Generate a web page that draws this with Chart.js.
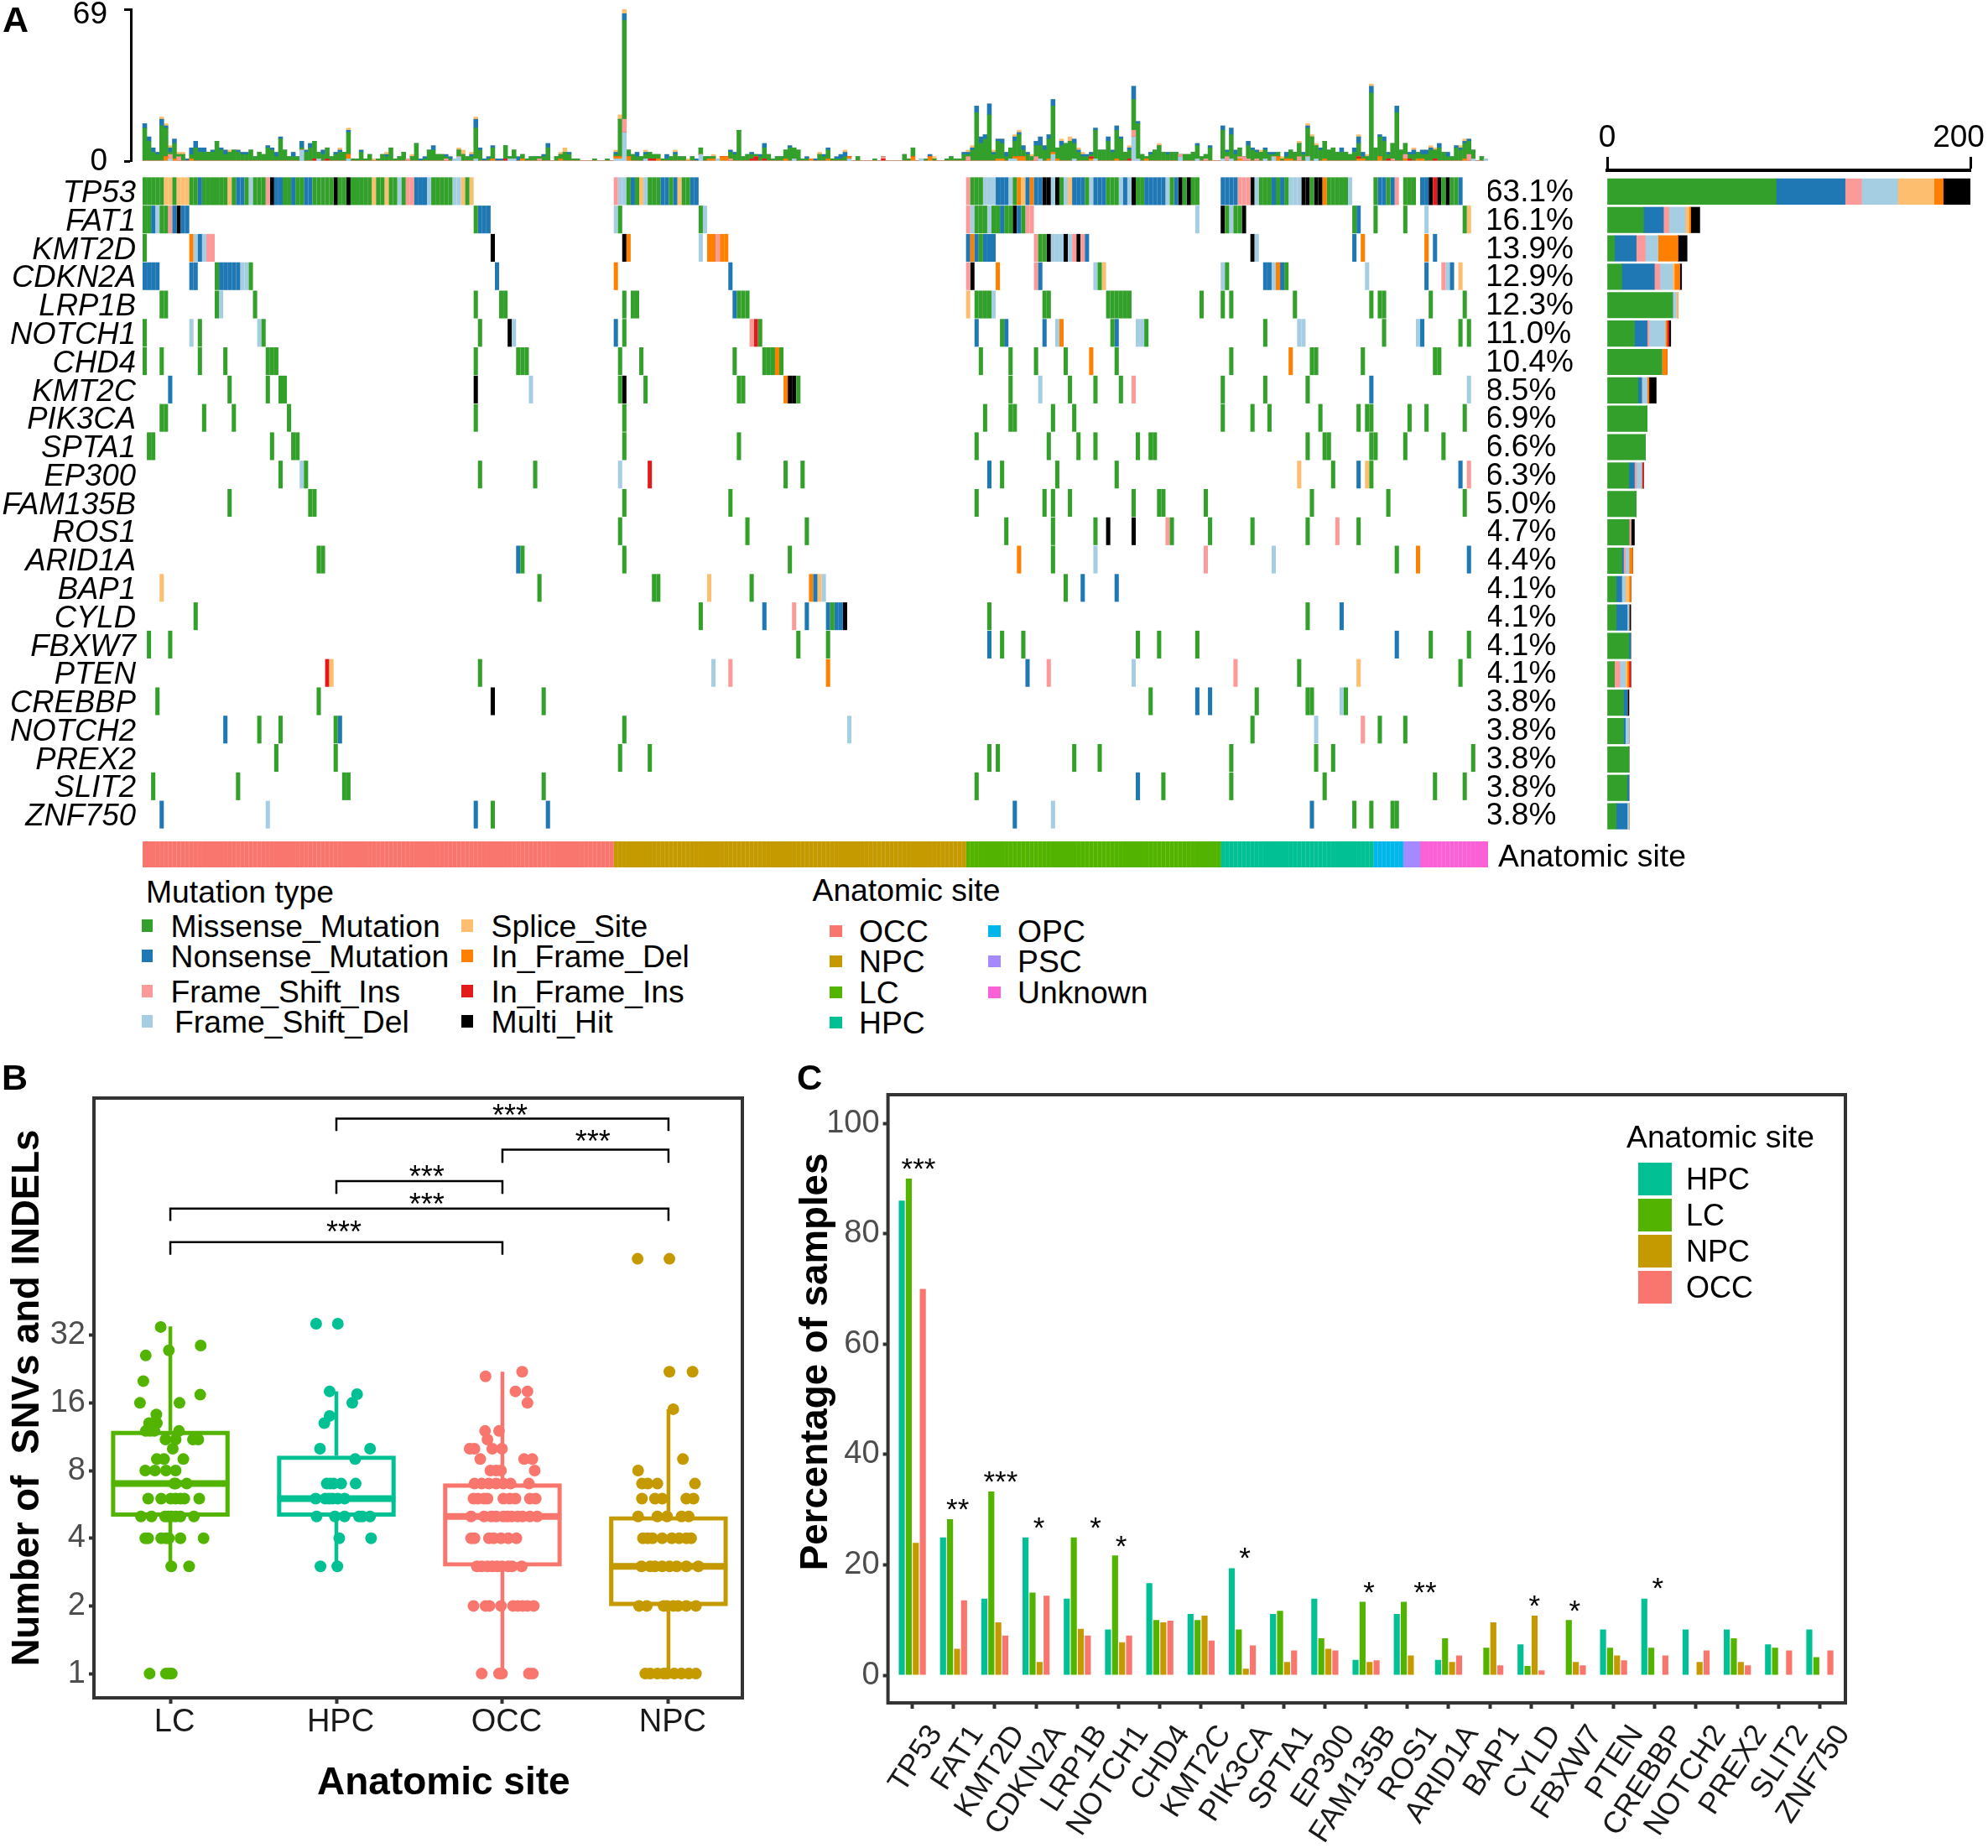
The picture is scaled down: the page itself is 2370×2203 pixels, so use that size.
<!DOCTYPE html>
<html>
<head>
<meta charset="utf-8">
<title>Mutation landscape</title>
<script src="https://cdn.jsdelivr.net/npm/chart.js@4"></script>
<style>
  html, body { margin: 0; background: #fff; }
  #page { position: relative; width: 2370px; height: 2203px; overflow: hidden; background: #fff;
          font-family: "Liberation Sans", Arial, sans-serif; color: #000; }
  #page canvas { position: absolute; }
  .txt { position: absolute; white-space: pre; line-height: 1.2; }
  .swatch { position: absolute; }
</style>
</head>
<body>
<div id="page"></div>
<script>
// ── DATA: genes and labels ────────────────────────────────────
const genes = ["TP53","FAT1","KMT2D","CDKN2A","LRP1B","NOTCH1","CHD4","KMT2C","PIK3CA","SPTA1","EP300","FAM135B","ROS1","ARID1A","BAP1","CYLD","FBXW7","PTEN","CREBBP","NOTCH2","PREX2","SLIT2","ZNF750"];
const genePct = ["63.1%","16.1%","13.9%","12.9%","12.3%","11.0%","10.4%","8.5%","6.9%","6.6%","6.3%","5.0%","4.7%","4.4%","4.1%","4.1%","4.1%","4.1%","3.8%","3.8%","3.8%","3.8%","3.8%"];

const mutCodes  = ["G","B","P","L","S","O","R","K"];
const mutNames  = ["Missense_Mutation","Nonsense_Mutation","Frame_Shift_Ins","Frame_Shift_Del","Splice_Site","In_Frame_Del","In_Frame_Ins","Multi_Hit"];
const mutColors = ["#33a02c","#1f78b4","#fb9a99","#a6cee3","#fdbf6f","#ff7f00","#e31a1c","#000000"];

const siteNames  = ["OCC","NPC","LC","HPC","OPC","PSC","Unknown"];
const siteColors = ["#F8766D","#C49A00","#53B400","#00C094","#00B6EB","#A58AFF","#FB61D7"];
const siteCounts = [111,83,60,36,7,4,16];

// ── DATA: mutations per sample (total on top barplot) ─────────
const topTotal = [
 17,11,6,4,20,17,7,10,4,4, 1,6,9,6,6,4,5,9,6,5, 5,5,5,4,4,5,2,4,3,7, 6,4,11,5,2,4,2,9,5,8,
 9,4,5,6,2,4,6,4,15,1, 1,5,1,3,1,1,3,4,6,1, 2,4,1,3,8,1,2,5,7,3, 3,3,2,1,6,5,2,4,20,6,
 1,2,7,1,1,7,2,5,2,3, 1,2,2,2,3,8,0,2,4,6, 4,1,1,0,0,0,1,0,0,1, 0,5,21,69,5,3,4,2,5,4,
 3,3,1,3,2,5,2,2,1,2, 1,6,2,2,3,1,2,2,5,4, 14,2,3,4,3,3,8,3,1,2, 2,5,7,6,5,1,2,1,1,4,
 3,6,1,2,3,5,2,0,2,0, 0,0,1,0,2,0,0,0,0,3, 1,6,0,1,1,3,2,0,0,1, 2,1,1,4,5,7,25,11,12,26,
 5,10,10,4,6,12,14,7,4,3, 9,11,7,12,28,6,10,8,11,10, 6,4,3,4,15,5,5,11,5,16, 11,4,7,34,18,3,2,4,5,8,
 4,4,4,4,3,3,3,4,8,2, 3,7,0,0,16,5,15,5,6,2, 9,6,5,5,6,4,4,4,2,4, 5,4,9,4,17,12,8,6,9,5,
 6,4,6,4,3,6,12,4,3,35, 6,12,11,4,8,25,5,8,4,6, 4,5,5,7,6,8,4,4,2,7, 7,10,10,5,0,2,1];
// [sample, count] for everything that is not missense
const topNonsense = [[0,2],[1,2],[2,2],[3,1],[4,3],[5,1],[6,2],[7,2],[10,1],[11,3],[12,3],[13,2],[14,2],[16,1],[18,1],[19,2],[22,1],[23,1],[24,1],[29,1],[30,1],[31,2],[32,1],[35,2],[37,3],[38,1],[39,2],[42,2],[45,1],[46,1],[48,1],[51,1],[57,1],[65,1],[66,1],[68,2],[71,1],[72,1],[77,1],[78,4],[79,1],[80,1],[81,1],[82,1],[83,1],[84,1],[88,2],[94,1],[95,2],[100,1],[111,1],[113,3],[116,2],[118,1],[123,2],[125,1],[130,1],[138,1],[139,1],[143,1],[145,1],[146,2],[152,1],[156,1],[158,1],[160,1],[161,1],[163,1],[164,2],[165,2],[185,1],[193,1],[194,1],[195,1],[196,3],[197,3],[198,2],[199,5],[200,1],[201,1],[202,2],[203,2],[205,2],[206,1],[207,2],[208,1],[210,2],[211,4],[212,2],[213,2],[214,3],[216,2],[219,2],[220,1],[221,1],[222,1],[223,1],[224,1],[227,2],[228,1],[229,2],[230,1],[232,1],[233,6],[234,1],[237,1],[241,1],[248,1],[251,1],[254,2],[255,1],[256,3],[257,2],[260,2],[261,1],[262,1],[264,1],[265,1],[266,1],[269,2],[273,1],[274,1],[277,1],[282,2],[285,2],[286,3],[287,2],[289,3],[291,1],[292,2],[293,1],[295,3],[298,1],[299,2],[301,2],[302,2],[303,1],[305,2],[307,2],[309,1],[310,1],[311,1],[312,1]];
const topSplice = [[4,1],[5,1],[6,1],[8,1],[9,1],[20,1],[46,1],[48,1],[54,1],[57,1],[63,1],[74,1],[75,2],[77,1],[78,1],[98,1],[99,2],[111,1],[112,2],[113,2],[118,1],[125,1],[128,1],[134,1],[159,1],[165,1],[186,1],[194,1],[195,1],[200,1],[205,1],[206,1],[209,1],[216,1],[218,2],[220,1],[221,1],[232,1],[239,1],[263,1],[268,1],[272,1],[274,1],[275,1],[276,1],[286,1],[288,1],[289,1],[299,1],[303,1],[304,1],[310,1],[311,1]];
const topFsDel = [[6,1],[37,5],[41,1],[48,1],[73,1],[74,2],[78,1],[86,1],[87,1],[111,1],[112,1],[113,13],[118,1],[131,3],[135,1],[153,1],[166,1],[183,1],[204,1],[205,1],[211,1],[214,3],[219,1],[224,1],[233,11],[234,1],[244,2],[248,1],[254,1],[256,1],[264,1],[266,2],[274,2],[276,1],[313,1],[316,1]];
const topFsIns = [[6,2],[8,2],[62,1],[71,1],[93,1],[113,6],[138,1],[174,1],[194,2],[210,2],[233,3],[244,1],[250,1],[255,2],[258,1],[259,2],[260,1],[262,1],[272,2],[294,1],[297,2],[312,3]];
const topIfDel = [[5,2],[7,1],[11,1],[48,2],[82,1],[89,1],[98,1],[111,1],[112,1],[114,2],[121,1],[133,1],[134,1],[136,2],[137,2],[151,1],[157,1],[161,1],[166,1],[181,2],[185,2],[201,1],[202,1],[205,1],[206,2],[207,2],[213,1],[214,1],[215,1],[223,1],[229,1],[236,1],[258,1],[267,2],[269,1],[270,1],[278,1],[286,1],[287,1],[291,2],[297,1],[300,1],[301,1],[311,1]];
const topIfIns = [[40,1],[43,1],[85,1],[119,1],[120,1],[143,1],[144,2],[146,1],[174,1],[223,1],[232,1],[286,1],[293,1],[298,1],[304,1]];

// ── DATA: oncoplot, [first sample, mutation codes] per gene ───
const mutTP53 = [[0,"GGGGGSSGSSSGGBGGGGGGSGBBGLGGGPKBBGGBGGBBGGGGGKGGKGGGGGSGGSGGLGPPBBBLGGGGGLLSGS"],[111,"PLLGBGSLGGGBBGBSGGBB"],[194,"PGGGLLLBBBLGOSBOBBKKLKGLSBBBGLBBBGGGLBLKGGBBBBBLGBKGKGG"],[254,"BBBBPPPKLGGGBGBGLLLKKGKKOGGGGGL"],[290,"GBBGBP"],[297,"GGG"],[301,"BBKRKGKGGB"]];
const mutFAT1 = [[0,"GGBLGGPBKBB"],[78,"GBBB"],[111,"LG"],[131,"GL"],[194,"PLGGGLGGBGGKBGPP"],[248,"L"],[254,"KGLGGK"],[285,"GB"],[290,"G"],[297,"G"],[302,"L"],[311,"GS"]];
const mutKMT2D = [[0,"G"],[11,"OLBLPP"],[82,"K"],[113,"KO"],[131,"L"],[133,"OOPOO"],[194,"BOBGBBB"],[210,"PGGKLLLKLPKPB"],[261,"KL"],[285,"B"],[287,"O"],[302,"O"],[304,"B"]];
const mutCDKN2A = [[0,"BBBB"],[11,"BB"],[17,"GBBBBBLLG"],[83,"B"],[111,"O"],[138,"B"],[194,"PK"],[201,"O"],[210,"PB"],[224,"LGS"],[254,"LG"],[264,"BBLOBG"],[288,"L"],[302,"B"],[306,"PLB"],[310,"S"]];
const mutLRP1B = [[4,"GG"],[17,"GL"],[26,"G"],[78,"G"],[84,"GG"],[113,"G"],[115,"GG"],[139,"BGGG"],[194,"S"],[196,"GGGGL"],[212,"GG"],[227,"GGGGGG"],[249,"G"],[254,"G"],[256,"G"],[271,"G"],[289,"G"],[291,"GG"],[303,"G"],[311,"G"]];
const mutNOTCH1 = [[0,"G"],[11,"L"],[13,"G"],[27,"LG"],[79,"G"],[86,"KL"],[111,"B"],[113,"G"],[143,"PRG"],[196,"B"],[202,"GB"],[212,"B"],[215,"LO"],[228,"GB"],[234,"LLG"],[264,"G"],[272,"L"],[273,"L"],[292,"G"],[300,"LB"],[310,"G"],[312,"G"]];
const mutCHD4 = [[0,"G"],[4,"G"],[13,"G"],[19,"G"],[29,"GGG"],[78,"G"],[88,"GGG"],[112,"G"],[117,"G"],[139,"G"],[146,"GGGOG"],[197,"G"],[204,"G"],[210,"G"],[217,"G"],[223,"O"],[229,"G"],[256,"G"],[270,"O"],[275,"GG"],[287,"G"],[304,"GG"]];
const mutKMT2C = [[6,"B"],[20,"G"],[29,"G"],[32,"GG"],[78,"K"],[91,"L"],[112,"GK"],[118,"G"],[140,"GG"],[151,"OKKG"],[204,"G"],[211,"L"],[218,"G"],[224,"G"],[230,"G"],[233,"P"],[254,"G"],[264,"G"],[274,"G"],[289,"B"],[312,"L"]];
const mutPIK3CA = [[4,"GG"],[14,"G"],[21,"G"],[34,"G"],[78,"G"],[113,"G"],[198,"G"],[204,"GG"],[214,"G"],[219,"G"],[254,"G"],[261,"G"],[265,"G"],[277,"G"],[286,"G"],[288,"GG"],[298,"G"],[302,"G"],[311,"G"]];
const mutSPTA1 = [[1,"GG"],[30,"G"],[35,"GG"],[113,"G"],[140,"G"],[196,"G"],[213,"G"],[220,"G"],[224,"G"],[234,"G"],[237,"GG"],[274,"G"],[278,"GG"],[289,"GG"],[297,"G"],[306,"G"]];
const mutEP300 = [[32,"G"],[37,"LG"],[79,"G"],[92,"G"],[112,"L"],[119,"R"],[151,"G"],[155,"G"],[199,"B"],[202,"G"],[215,"G"],[229,"G"],[272,"S"],[280,"G"],[286,"B"],[288,"SG"],[310,"B"],[312,"P"]];
const mutFAM135B = [[20,"G"],[39,"GG"],[113,"G"],[138,"G"],[196,"G"],[212,"G"],[214,"G"],[218,"G"],[233,"G"],[239,"GG"],[250,"G"],[275,"G"],[293,"G"],[311,"G"]];
const mutROS1 = [[112,"G"],[142,"G"],[156,"G"],[203,"G"],[214,"G"],[224,"G"],[227,"K"],[233,"K"],[241,"PG"],[251,"G"],[261,"G"],[274,"G"],[281,"P"],[286,"G"]];
const mutARID1A = [[41,"GG"],[88,"BG"],[113,"G"],[152,"G"],[206,"O"],[214,"G"],[224,"L"],[250,"P"],[266,"L"],[295,"G"],[300,"O"],[312,"B"]];
const mutBAP1 = [[4,"S"],[93,"G"],[120,"GG"],[133,"S"],[143,"G"],[157,"OBSL"],[217,"G"],[221,"B"],[229,"B"]];
const mutCYLD = [[12,"G"],[131,"G"],[146,"B"],[153,"P"],[156,"B"],[161,"BGBBK"],[199,"G"],[274,"G"],[282,"B"]];
const mutFBXW7 = [[1,"G"],[6,"G"],[154,"G"],[161,"G"],[199,"B"],[202,"G"],[207,"G"],[234,"G"],[239,"G"],[248,"G"],[295,"B"],[303,"G"],[312,"G"]];
const mutPTEN = [[43,"RS"],[79,"G"],[134,"L"],[138,"P"],[161,"O"],[208,"B"],[213,"P"],[233,"L"],[257,"P"],[272,"G"],[286,"S"],[310,"G"]];
const mutCREBBP = [[3,"G"],[41,"G"],[82,"K"],[94,"G"],[237,"G"],[248,"B"],[251,"B"],[262,"G"],[274,"GG"],[282,"LG"]];
const mutNOTCH2 = [[19,"B"],[27,"G"],[32,"G"],[45,"GB"],[113,"G"],[166,"L"],[261,"G"],[276,"L"],[287,"P"],[291,"G"],[297,"G"]];
const mutPREX2 = [[31,"G"],[45,"G"],[112,"G"],[119,"G"],[199,"G"],[201,"G"],[219,"G"],[225,"G"],[256,"G"],[276,"G"],[280,"G"],[313,"G"]];
const mutSLIT2 = [[2,"G"],[22,"G"],[47,"GG"],[94,"G"],[196,"G"],[234,"B"],[240,"G"],[256,"G"],[278,"G"],[304,"G"],[311,"G"]];
const mutZNF750 = [[4,"B"],[29,"L"],[78,"B"],[82,"G"],[95,"B"],[205,"B"],[214,"L"],[275,"B"],[285,"G"],[289,"G"],[294,"GG"]];
const mutRows = [mutTP53,mutFAT1,mutKMT2D,mutCDKN2A,mutLRP1B,mutNOTCH1,mutCHD4,mutKMT2C,mutPIK3CA,mutSPTA1,mutEP300,mutFAM135B,mutROS1,mutARID1A,mutBAP1,mutCYLD,mutFBXW7,mutPTEN,mutCREBBP,mutNOTCH2,mutPREX2,mutSLIT2,mutZNF750];

// ── DATA: side barplot, samples per gene ──────────────────────
const sideMissense = [93,20,4,8,36,15,30,17,22,21,12,16,12,8,5,5,12,4,9,9,12,11,5];
const sideNonsense = [38,11,12,18,0,7,0,2,0,0,3,0,0,1,3,6,1,0,2,1,0,1,6];
const sideFsIns    = [9,3,5,3,0,1,0,0,0,0,1,0,1,1,0,0,0,3,0,0,0,0,0];
const sideFsDel    = [20,9,7,7,2,9,0,3,0,0,3,0,0,2,2,1,0,3,0,2,0,0,1];
const sideSplice   = [20,2,0,1,1,0,0,0,0,0,0,0,0,0,2,0,0,1,0,0,0,0,0];
const sideIfDel    = [5,1,11,3,0,1,3,1,0,0,0,0,0,2,1,0,0,1,0,0,0,0,0];
const sideIfIns    = [0,0,0,0,0,1,0,0,0,0,1,0,0,0,0,0,0,1,0,0,0,0,0];
const sideMulti    = [15,5,5,1,0,1,0,4,0,0,0,0,2,0,0,1,0,0,1,0,0,0,0];
const sideSeries   = [sideMissense,sideNonsense,sideFsIns,sideFsDel,sideSplice,sideIfDel,sideIfIns,sideMulti];

// ── DATA: panel B, boxes ──────────────────────────────────────
const boxSites  = ["LC","HPC","OCC","NPC"];
const boxColors = ["#53B400","#00C094","#F8766D","#C49A00"];
const boxLow    = [3,3,1,1];
const boxQ1     = [5,5,3,2];
const boxMedian = [7,6,5,3];
const boxQ3     = [12,9.3,7,5];
const boxHigh   = [35,18,22,15];
const boxTicks  = [1,2,4,8,16,32];
// [value, jitter offsets of the dots around the box centre]
const pointsLC = [[1,-43,-9,3,-2],[3,2,39],[4,-52,-46,-19,-9,-3,21,69],[5,-61,-39,-11,-4,2,11,21,49],[6,-46,-19,1,11,21,29,60],[7,8,34,11],[8,-52,-32,-9,11],[9,-28,-13,27],[10,5],[11,-10,11,47,58],[12,-51,-42,-33,18],[13,-44,-28,-36],[14.2,-29],[16,-63,19],[17.4,62],[20,-56],[26,-51],[27.4,-3],[28.8,63],[34.8,-20]];
const pointsHPC = [[3,-33,2],[4,6,72],[5,-41,-3,17,47,54,70],[6,-43,-23,-8,17,-15,3],[7,-20,-13,-6,10,40],[9,39],[10,-34,70],[13,-25],[14,-14],[16,33],[17.5,43],[18,-14],[36,-42,3]];
const pointsOCC = [[1,-43,-7,-1,55,63],[2,-60,-35,-27,-3,22,32,42,52,65],[3,-53,-43,-31,-21,-11,-1,12,20,40],[4,-65,-58,-28,-18,-3,12,29],[5,-65,-38,-23,-13,2,10,19,32,42,57,72],[6,-60,-51,-38,-31,2,15,27,57,69],[7,-58,-43,-28,-13,2,17,55],[8,-25,-13,-3,67],[9,-46,45,62],[10,-68,-58,-21,-1],[11,-31],[12,-36,-7],[16,52],[18,27,52],[21,-35],[22,41]];
const pointsNPC = [[1,-48,-38,-23,-10,-3,12,27,42,57],[2,-61,-45,-10,-3,10,20,37,57],[3,-56,-38,-28,-13,2,17,37,62],[4,-53,-43,-33,-13,7,22,37,47],[5,-63,-23,-3,27,42],[6,-55,-28,-13,37,52],[7,-55,-43,-23,55],[8,-63],[9,30],[15,10],[22,2,50],[70,-64,2]];
const boxPoints = [pointsLC,pointsHPC,pointsOCC,pointsNPC];
// brackets: from box, to box, top value, tip value, star position
const bracketFrom = [1,2,1,0,0];
const bracketTo   = [3,3,2,3,2];
const bracketTop  = [294,214,155,117,83];
const bracketTip  = [259,187,136,103,73];
const bracketStarX = [2.046,2.545,1.544,1.544,1.045];
const bracketStarY = [326,249,173,131,98];

// ── DATA: panel C, percentage of samples ──────────────────────
const pctHPC = [86,25,13.9,25,13.9,8.3,16.7,11.1,19.4,11.1,13.9,2.8,11.1,2.8,0,5.6,0,8.3,13.9,8.3,8.3,5.6,8.3];
const pctLC  = [90,28.3,33.3,15,25,21.7,10,10,8.3,11.7,6.7,13.3,13.3,6.7,5,1.7,10,5,5,0,6.7,5,3.3];
const pctNPC = [24,4.8,9.6,2.4,8.4,6,9.6,10.8,1.2,2.4,4.8,2.4,3.6,2.4,9.6,10.8,2.4,3.6,0,2.4,2.4,0,0];
const pctOCC = [70,13.6,7.2,14.4,7.2,7.2,9.9,6.3,5.4,4.5,4.5,2.7,0,3.6,1.8,0.9,1.8,2.7,3.6,4.5,1.8,4.5,4.5];
const pctSites  = ["HPC","LC","NPC","OCC"];
const pctColors = ["#00C094","#53B400","#C49A00","#F8766D"];
const pctTicks  = [0,20,40,60,80,100];
const sigX     = [0.15,1.1,2.14,3.07,4.44,5.06,8.06,11.07,12.43,15.08,16.06,18.07];
const sigY     = [93,31.4,36.4,28,28,24.7,22.5,16.3,16.3,13.9,13,17];
const sigStars = ["***","**","***","*","*","*","*","*","**","*","*","*"];

// ── HELPERS ───────────────────────────────────────────────────
const FONT = '"Liberation Sans", Arial, sans-serif';
const LEGEND_SIZE = 37.3;
const page = document.getElementById("page");
Chart.defaults.font.family = FONT;
Chart.defaults.animation = false;
Chart.defaults.responsive = false;
Chart.defaults.devicePixelRatio = 1;
Chart.defaults.plugins.legend.display = false;
Chart.defaults.plugins.tooltip.enabled = false;

function makeCanvas(left, top, w, h) {
  const c = document.createElement("canvas");
  c.width = w; c.height = h;
  c.style.left = left + "px"; c.style.top = top + "px";
  page.appendChild(c);
  return c.getContext("2d");
}
function addText(text, left, midY, size, extra) {
  const d = document.createElement("div");
  d.className = "txt";
  d.textContent = text;
  d.style.left = left + "px";
  d.style.top = (midY - size * 0.6) + "px";
  d.style.fontSize = size + "px";
  if (extra) Object.assign(d.style, extra);
  page.appendChild(d);
  return d;
}
function addSwatch(color, left, top, w, h) {
  const d = document.createElement("div");
  d.className = "swatch";
  Object.assign(d.style, { background: color, left: left + "px", top: top + "px", width: w + "px", height: h + "px" });
  page.appendChild(d);
}
// frame drawn round the plot area
const frameBox = {
  id: "frameBox",
  afterDraw(chart) {
    const a = chart.chartArea, ctx = chart.ctx;
    ctx.save();
    ctx.lineWidth = 4; ctx.strokeStyle = "#333";
    ctx.strokeRect(a.left, a.top, a.right - a.left, a.bottom - a.top);
    ctx.restore();
  },
};
// text put at scale positions: asterisks and the axis numbers that sit off their tick
function scaleText(items, size, color) {
  return {
    id: "scaleText",
    afterDraw(chart) {
      const ctx = chart.ctx;
      ctx.save();
      ctx.font = size + "px " + FONT;
      ctx.fillStyle = color || "#000";
      items.forEach(t => {
        const x = t.px !== undefined ? t.px : chart.scales.x.getPixelForValue(t.x);
        const y = t.py !== undefined ? t.py : chart.scales.y.getPixelForValue(t.y);
        ctx.textAlign = t.align || "center";
        ctx.textBaseline = t.base || "middle";
        ctx.fillText(t.text, x + (t.dx || 0), y + (t.dy || 0));
      });
      ctx.restore();
    },
  };
}
const sparse = pairs => { const m = {}; pairs.forEach(p => { m[p[0]] = p[1]; }); return m; };

// ── PANEL A: TOP BARPLOT ──────────────────────────────────────
const topOther = [[topFsDel,3],[topIfDel,5],[topIfIns,6],[topFsIns,2]].map(s => ({ map: sparse(s[0]), color: mutColors[s[1]], name: mutNames[s[1]] }));
const topTips  = [[topNonsense,1],[topSplice,4]].map(s => ({ map: sparse(s[0]), color: mutColors[s[1]], name: mutNames[s[1]] }));
const topMissense = topTotal.map((t, i) => {
  let rest = 0;
  topOther.concat(topTips).forEach(s => { rest += s.map[i] || 0; });
  return Math.max(0, t - rest);
});
const topSets = topOther
  .concat([{ map: topMissense, color: mutColors[0], name: mutNames[0] }])
  .concat(topTips)
  .map(s => ({
    label: s.name,
    backgroundColor: s.color,
    barThickness: 4.9,
    data: topTotal.map((_, i) => ({ x: i, y: s.map[i] || 0 })),
  }));

new Chart(makeCanvas(0, 0, 1774, 222), {
  type: "bar",
  data: { datasets: topSets },
  options: {
    layout: { padding: { top: 11, bottom: 30 } },
    scales: {
      x: { type: "linear", display: false, offset: false, stacked: true, min: -3.27, max: 316.5 },
      y: {
        stacked: true, min: 0, max: 69,
        afterFit: s => { s.width = 156; },
        afterBuildTicks: s => { s.ticks = [{ value: 0 }, { value: 69 }]; },
        ticks: { display: false },
        grid: { drawOnChartArea: false, tickLength: 8, tickWidth: 3, tickColor: "#000" },
        border: { color: "#000", width: 3 },
      },
    },
  },
  plugins: [scaleText([
    { px: 128, y: 69, dy: 7, text: "69", align: "right" },
    { px: 128, y: 0, dy: 1, text: "0", align: "right" },
  ], 37)],
});

// ── PANEL A: ONCOPLOT ─────────────────────────────────────────
const oncoSets = mutCodes.map((code, m) => {
  const data = [];
  mutRows.forEach((runs, row) => {
    runs.forEach(run => {
      [...run[1]].forEach((c, k) => {
        if (c === code) data.push({ x: run[0] + k, y: [row - 0.48, row + 0.48] });
      });
    });
  });
  return { label: mutNames[m], backgroundColor: mutColors[m], barThickness: 4.4, grouped: false, data };
});
const rowTicks = s => { s.ticks = genes.map((_, i) => ({ value: i })); };

new Chart(makeCanvas(0, 181, 1904, 837), {
  type: "bar",
  data: { datasets: oncoSets },
  options: {
    layout: { padding: { top: 30, bottom: 30 } },
    scales: {
      x: { type: "linear", display: false, offset: false, min: -0.5, max: 316.5 },
      y: {
        type: "linear", reverse: true, min: -0.5, max: 22.5,
        afterFit: s => { s.width = 170; },
        afterBuildTicks: rowTicks,
        ticks: { autoSkip: false, padding: 8, labelOffset: 3, color: "#000", font: { size: 36.5, style: "italic" }, callback: v => genes[v] },
        grid: { display: false, drawTicks: false }, border: { display: false },
      },
      yr: {
        type: "linear", position: "right", reverse: true, min: -0.5, max: 22.5,
        afterFit: s => { s.width = 130; },
        afterBuildTicks: rowTicks,
        ticks: { autoSkip: false, padding: -3, labelOffset: 2, color: "#000", font: { size: 37 }, callback: v => genePct[v] },
        grid: { display: false, drawTicks: false }, border: { display: false },
      },
    },
  },
});

// ── PANEL A: SIDE BARPLOT ─────────────────────────────────────
new Chart(makeCanvas(1900, 130, 470, 860), {
  type: "bar",
  data: {
    datasets: sideSeries.map((vals, m) => ({
      label: mutNames[m],
      backgroundColor: mutColors[m],
      barThickness: 30.5,
      data: vals.map((v, i) => ({ x: v, y: i })),
    })),
  },
  options: {
    indexAxis: "y",
    layout: { padding: { left: 16, right: 21 } },
    scales: {
      x: {
        position: "top", stacked: true, min: 0, max: 200,
        afterFit: s => { s.height = 73; },
        afterBuildTicks: s => { s.ticks = [{ value: 0 }, { value: 200 }]; },
        ticks: { display: false },
        grid: { drawOnChartArea: false, tickLength: 16, tickWidth: 3, tickColor: "#000" },
        border: { color: "#000", width: 4 },
      },
      y: { type: "linear", display: false, offset: false, stacked: true, reverse: true, min: -0.75, max: 22.5 },
    },
  },
  plugins: [scaleText([
    { x: 0, py: 35, text: "0" },
    { x: 200, py: 35, dx: -14, text: "200" },
  ], 37)],
});

// ── PANEL A: ANATOMIC SITE STRIP ──────────────────────────────
let stripFirst = 0;
const stripSets = siteCounts.map((n, s) => {
  const data = [];
  for (let k = 0; k < n; k++) data.push({ x: stripFirst + k, y: [0, 1] });
  stripFirst += n;
  return { label: siteNames[s], backgroundColor: siteColors[s], barThickness: 4.6, grouped: false, data };
});
new Chart(makeCanvas(170, 1003, 1604, 31), {
  type: "bar",
  data: { datasets: stripSets },
  options: {
    scales: {
      x: { type: "linear", display: false, offset: false, min: -0.5, max: 316.5 },
      y: { type: "linear", display: false, min: 0, max: 1 },
    },
  },
});

// ── PANEL A: LEGENDS ──────────────────────────────────────────
addText("A", 3, 24, 43, { fontWeight: "bold" });
addText("Anatomic site", 1786, 1020, LEGEND_SIZE);
addText("Mutation type", 174, 1063, LEGEND_SIZE);
const mutLegendY = [1104,1140,1182,1218];
[0,1,2,3].forEach((m, r) => {
  addSwatch(mutColors[m], 169, mutLegendY[r] - 8, 13, 15);
  addText(mutNames[m], m === 3 ? 208 : 203.5, mutLegendY[r], LEGEND_SIZE);
});
[4,5,6,7].forEach((m, r) => {
  addSwatch(mutColors[m], 550, mutLegendY[r] - 8, 14, 15);
  addText(mutNames[m], 585.6, mutLegendY[r], LEGEND_SIZE);
});
addText("Anatomic site", 968.5, 1061, LEGEND_SIZE);
const siteLegendY = [1110,1146,1183,1219];
siteNames.forEach((name, s) => {
  const r = s < 4 ? s : s - 4;
  addSwatch(siteColors[s], s < 4 ? 989 : 1178, siteLegendY[r] - 7, 15, 14);
  addText(name, s < 4 ? 1024 : 1213, siteLegendY[r], LEGEND_SIZE);
});

// ── PANEL B: BOXPLOTS ─────────────────────────────────────────
const jitterUnit = 344.6;
const boxSets = [];
boxSites.forEach((site, b) => {
  const color = boxColors[b];
  boxSets.push({ type: "bar", label: site, data: [{ x: b, y: [boxQ1[b], boxQ3[b]] }], barThickness: 141, grouped: false,
    backgroundColor: "rgba(0,0,0,0)", borderColor: color, borderWidth: 4.5, borderSkipped: false });
  const segs = [
    { w: 4.5, pts: [{ x: b, y: boxQ3[b] }, { x: b, y: boxHigh[b] }] },
    { w: 4.5, pts: [{ x: b, y: boxQ1[b] }, { x: b, y: boxLow[b] }] },
    { w: 8, pts: [{ x: b - 0.355, y: boxMedian[b] }, { x: b + 0.355, y: boxMedian[b] }] },
  ];
  segs.forEach(s => boxSets.push({ type: "line", data: s.pts, borderColor: color, borderWidth: s.w, pointRadius: 0 }));
  const dots = [];
  boxPoints[b].forEach(row => row.slice(1).forEach(off => dots.push({ x: b + off / jitterUnit, y: row[0] })));
  boxSets.push({ type: "scatter", label: site + " samples", data: dots, backgroundColor: color, borderWidth: 0, pointRadius: 7 });
});
bracketFrom.forEach((from, i) => {
  const to = bracketTo[i];
  boxSets.push({ type: "line", data: [
    { x: from, y: bracketTip[i] }, { x: from, y: bracketTop[i] }, { x: to, y: bracketTop[i] }, { x: to, y: bracketTip[i] },
  ], borderColor: "#000", borderWidth: 2.5, pointRadius: 0 });
});

new Chart(makeCanvas(0, 1279, 900, 875), {
  type: "bar",
  data: { datasets: boxSets },
  options: {
    layout: { padding: { top: 30, right: 15 } },
    scales: {
      x: {
        type: "linear", offset: false, min: -0.46, max: 3.445,
        afterFit: s => { s.height = 130; },
        afterBuildTicks: s => { s.ticks = boxSites.map((_, i) => ({ value: i })); },
        ticks: { autoSkip: false, padding: 0, labelOffset: 5, maxRotation: 0, color: "#1a1a1a", font: { size: 38 }, callback: v => boxSites[v] },
        grid: { drawOnChartArea: false, offset: false, tickLength: 7, tickWidth: 4, tickColor: "#333" },
        border: { display: false },
      },
      y: {
        type: "logarithmic", min: 0.78, max: 363,
        afterFit: s => { s.width = 112; },
        afterBuildTicks: s => { s.ticks = boxTicks.map(v => ({ value: v })); },
        ticks: { autoSkip: false, padding: 4, color: "#4d4d4d", font: { size: 38 }, callback: v => String(v) },
        grid: { drawOnChartArea: false, tickLength: 6, tickWidth: 4, tickColor: "#333" },
        border: { display: false },
        title: { display: true, text: "Number of  SNVs and INDELs", color: "#000", font: { size: 45.5, weight: "bold" }, padding: { top: 6, bottom: 0 } },
      },
    },
  },
  plugins: [frameBox, scaleText(bracketStarX.map((x, i) => ({ x, y: bracketStarY[i], dy: 20, text: "***", base: "alphabetic" })), 36)],
});
addText("B", 2, 1285, 43, { fontWeight: "bold" });
addText("Anatomic site", 378, 2124, 46, { fontWeight: "bold" });

// ── PANEL C: GROUPED BARS ─────────────────────────────────────
new Chart(makeCanvas(980, 1270, 1260, 933), {
  type: "bar",
  data: {
    datasets: [pctHPC, pctLC, pctNPC, pctOCC].map((vals, s) => ({
      label: pctSites[s],
      backgroundColor: pctColors[s],
      categoryPercentage: 0.68,
      barPercentage: 0.86,
      data: vals.map((v, i) => ({ x: i, y: v })),
    })),
  },
  options: {
    layout: { padding: { top: 35, right: 40 } },
    scales: {
      x: {
        type: "linear", offset: false, min: -0.59, max: 22.62,
        afterFit: s => { s.height = 173; },
        afterBuildTicks: s => { s.ticks = genes.map((_, i) => ({ value: i })); },
        ticks: { autoSkip: false, minRotation: 57, maxRotation: 57, padding: 12, labelOffset: 28, color: "#1a1a1a", font: { size: 36 }, callback: v => genes[v] },
        grid: { drawOnChartArea: false, offset: false, tickLength: 7, tickWidth: 4, tickColor: "#333" },
        border: { display: false },
      },
      y: {
        min: -5, max: 105.2,
        afterFit: s => { s.width = 78.6; },
        afterBuildTicks: s => { s.ticks = pctTicks.map(v => ({ value: v })); },
        ticks: { autoSkip: false, padding: 4, color: "#4d4d4d", font: { size: 38 }, callback: v => String(v) },
        grid: { drawOnChartArea: false, tickLength: 6, tickWidth: 4, tickColor: "#333" },
        border: { display: false },
      },
    },
  },
  plugins: [frameBox, scaleText(sigX.map((x, i) => ({ x, y: sigY[i], dy: 20, text: sigStars[i], base: "alphabetic" })), 35)],
});
addText("C", 950, 1285, 42, { fontWeight: "bold" });
addText("Percentage of samples", 971, 1623, 45.7, { fontWeight: "bold", transform: "translate(-50%,0) rotate(-90deg)" });

addText("Anatomic site", 1939, 1355, LEGEND_SIZE);
const pctLegendTop = [1386,1429,1472,1515];
pctSites.forEach((name, s) => {
  addSwatch(pctColors[s], 1953, pctLegendTop[s], 40, 39);
  addText(name, 2010, pctLegendTop[s] + 19.5, 36);
});
</script>
</body>
</html>
